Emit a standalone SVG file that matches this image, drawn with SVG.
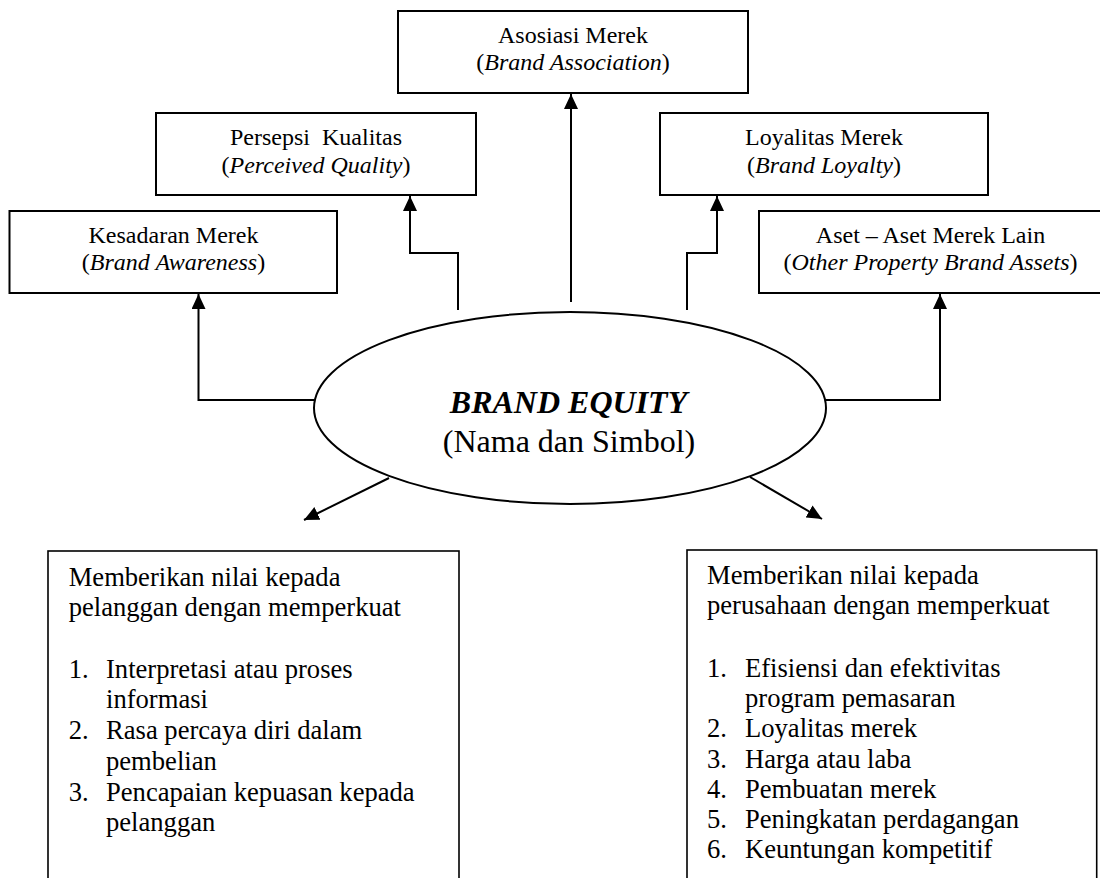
<svg xmlns="http://www.w3.org/2000/svg" width="1100" height="878" viewBox="0 0 1100 878">
<style>
  .box { fill: #fff; stroke: #000; stroke-width: 2; }
  .bbox { fill: #fff; stroke: #000; stroke-width: 1.6; }
  .t { font-family: "Liberation Serif", "Times New Roman", serif; font-size: 24px; fill: #000; text-anchor: middle; }
  .b { font-family: "Liberation Serif", "Times New Roman", serif; font-size: 26.6px; fill: #000; }
  .conn { fill: none; stroke: #000; stroke-width: 2; }
  .center { font-family: "Liberation Serif", "Times New Roman", serif; font-size: 32px; fill: #000; text-anchor: middle; }
</style>
<defs>
  <marker id="arr" markerUnits="userSpaceOnUse" markerWidth="16" markerHeight="14" refX="15" refY="7" orient="auto">
    <path d="M0,0 L15,7 L0,14 z" fill="#000"/>
  </marker>
</defs>

<g id="connectors">
  <polyline class="conn" points="316,400 198.5,400 198.5,294" marker-end="url(#arr)"/>
  <polyline class="conn" points="458,310 458,253 410,253 410,196" marker-end="url(#arr)"/>
  <polyline class="conn" points="571,302 571,94" marker-end="url(#arr)"/>
  <polyline class="conn" points="687,310 687,253 717,253 717,196" marker-end="url(#arr)"/>
  <polyline class="conn" points="824,400 940,400 940,294" marker-end="url(#arr)"/>
  <line class="conn" x1="389" y1="478" x2="304" y2="520" marker-end="url(#arr)"/>
  <line class="conn" x1="750" y1="477" x2="822" y2="519" marker-end="url(#arr)"/>
</g>

<g id="asosiasi">
  <rect class="box" x="398" y="11" width="350" height="82"/>
  <text class="t" x="573" y="43.3">Asosiasi Merek</text>
  <text class="t" x="573" y="70">(<tspan font-style="italic">Brand Association</tspan>)</text>
</g>

<g id="persepsi">
  <rect class="box" x="156" y="113" width="320" height="82"/>
  <text class="t" x="316" y="145" xml:space="preserve">Persepsi  Kualitas</text>
  <text class="t" x="316" y="172.7">(<tspan font-style="italic">Perceived Quality</tspan>)</text>
</g>

<g id="kesadaran">
  <rect class="box" x="9.5" y="211" width="327.5" height="82"/>
  <text class="t" x="173.5" y="243.3">Kesadaran Merek</text>
  <text class="t" x="173.5" y="270">(<tspan font-style="italic">Brand Awareness</tspan>)</text>
</g>

<g id="loyalitas">
  <rect class="box" x="660" y="113" width="328" height="82"/>
  <text class="t" x="824" y="145">Loyalitas Merek</text>
  <text class="t" x="824" y="172.7">(<tspan font-style="italic">Brand Loyalty</tspan>)</text>
</g>

<g id="aset">
  <rect class="box" x="759" y="211" width="344" height="82"/>
  <text class="t" x="930.5" y="243.3">Aset – Aset Merek Lain</text>
  <text class="t" x="930.5" y="270">(<tspan font-style="italic">Other Property Brand Assets</tspan>)</text>
</g>

<g id="brand-equity">
  <ellipse cx="570" cy="408" rx="256" ry="96" fill="#fff" stroke="#000" stroke-width="2"/>
  <text class="center" x="568.5" y="413" font-weight="bold" font-style="italic">BRAND EQUITY</text>
  <text class="center" x="569" y="452">(Nama dan Simbol)</text>
</g>

<g id="pelanggan">
  <rect class="bbox" x="48" y="551" width="411" height="340"/>
  <text class="b" x="68.7" y="585.5">Memberikan nilai kepada</text>
  <text class="b" x="68.7" y="615.5">pelanggan dengan memperkuat</text>
  <text class="b" x="68.7" y="678">1.</text>
  <text class="b" x="106" y="678">Interpretasi atau proses</text>
  <text class="b" x="106" y="707.5">informasi</text>
  <text class="b" x="68.7" y="739">2.</text>
  <text class="b" x="106" y="739">Rasa percaya diri dalam</text>
  <text class="b" x="106" y="770">pembelian</text>
  <text class="b" x="68.7" y="800.7">3.</text>
  <text class="b" x="106" y="800.7">Pencapaian kepuasan kepada</text>
  <text class="b" x="106" y="830.7">pelanggan</text>
</g>

<g id="perusahaan">
  <rect class="bbox" x="687" y="550" width="409.7" height="340"/>
  <text class="b" x="707" y="584">Memberikan nilai kepada</text>
  <text class="b" x="707" y="614">perusahaan dengan memperkuat</text>
  <text class="b" x="707" y="676.7">1.</text>
  <text class="b" x="745" y="676.7">Efisiensi dan efektivitas</text>
  <text class="b" x="745" y="706.7">program pemasaran</text>
  <text class="b" x="707" y="736.7">2.</text>
  <text class="b" x="745" y="736.7">Loyalitas merek</text>
  <text class="b" x="707" y="767.7">3.</text>
  <text class="b" x="745" y="767.7">Harga atau laba</text>
  <text class="b" x="707" y="798">4.</text>
  <text class="b" x="745" y="798">Pembuatan merek</text>
  <text class="b" x="707" y="828">5.</text>
  <text class="b" x="745" y="828">Peningkatan perdagangan</text>
  <text class="b" x="707" y="858">6.</text>
  <text class="b" x="745" y="858">Keuntungan kompetitif</text>
</g>
</svg>
